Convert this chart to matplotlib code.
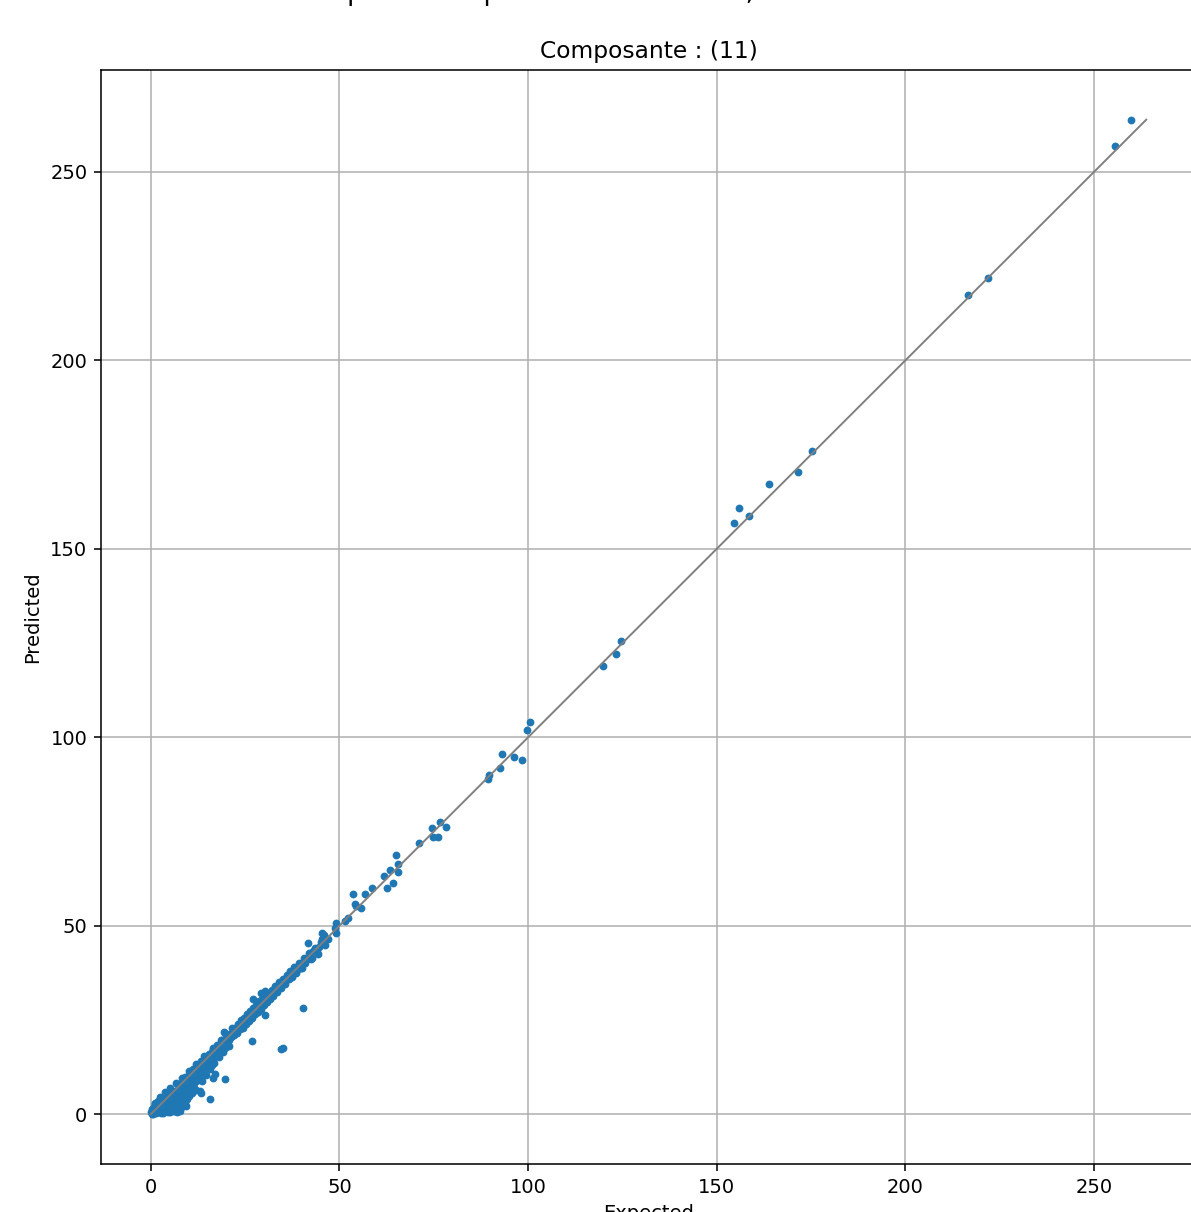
import matplotlib
matplotlib.use("Agg")
import matplotlib.pyplot as plt
import numpy as np

# values (expected, predicted)
outlier_expected = [259.8, 255.6, 221.9, 216.6, 175.2, 171.5, 163.8, 158.5, 155.9, 154.6,
                    124.6, 123.3, 119.8, 100.5, 99.7, 98.4, 96.2, 93.1, 92.6, 89.6, 89.3,
                    74.5, 76.6, 78.2, 74.8, 76.1, 71.0,
                    65.1, 65.5, 63.4, 65.4, 61.8, 64.2, 62.5, 53.5, 56.7, 58.5, 54.1, 55.8,
                    54.5, 52.3, 51.4, 49.2, 48.8, 49.2, 45.3, 45.7, 46.1, 41.7, 43.5, 44.4,
                    42.6, 40.0, 40.4, 30.2, 26.7, 35.1, 34.6, 17.0, 16.5, 19.6, 13.0, 13.4,
                    15.6, 27.1, 19.4, 29.3, 30.2]
outlier_predicted = [263.8, 256.9, 221.7, 217.4, 175.8, 170.3, 167.1, 158.6, 160.8, 156.8,
                     125.5, 122.1, 118.9, 104.1, 102.0, 94.0, 94.8, 95.6, 91.9, 90.0, 89.0,
                     76.0, 77.6, 76.3, 73.6, 73.6, 72.0,
                     68.9, 66.5, 64.7, 64.2, 63.1, 61.4, 60.0, 58.3, 58.3, 60.1, 55.9, 54.8,
                     55.2, 52.1, 51.2, 50.8, 49.4, 48.1, 48.1, 46.8, 45.0, 45.5, 43.7, 42.4,
                     41.5, 38.9, 28.3, 26.3, 19.4, 17.7, 17.4, 10.6, 9.7, 9.3, 6.2, 5.7,
                     4.1, 30.5, 21.8, 32.2, 32.7]

# dense band along the diagonal (0 - 47)
band_expected = [0.0, 0.2, 0.5, 0.8, 1.0, 1.2, 1.5, 1.8, 2.0, 2.2, 2.5, 2.8, 3.0, 3.2, 3.5,
                 3.8, 4.0, 4.2, 4.5, 4.8, 5.0, 5.2, 5.5, 5.8, 6.0, 6.2, 6.5, 6.8, 7.0, 7.2,
                 7.5, 7.8, 8.0, 8.3, 8.5, 8.8, 9.0, 9.2, 9.5, 9.8, 10.0, 10.3, 10.5, 10.8,
                 11.0, 11.3, 11.5, 11.8, 12.0, 12.3, 12.6, 13.0, 13.3, 13.6, 14.0, 14.3,
                 14.6, 15.0, 15.3, 15.6, 16.0, 16.4, 16.8, 17.2, 17.6, 18.0, 18.4, 18.8,
                 19.2, 19.6, 20.0, 20.4, 20.8, 21.2, 21.6, 22.0, 22.4, 22.8, 23.2, 23.6,
                 24.0, 24.4, 24.8, 25.2, 25.6, 26.0, 26.4, 26.8, 27.2, 27.6, 28.0, 28.4,
                 28.8, 29.2, 29.6, 30.0, 30.4, 30.8, 31.2, 31.6, 32.0, 32.5, 33.0, 33.5,
                 34.0, 34.5, 35.0, 35.5, 36.0, 36.5, 37.0, 37.5, 38.0, 38.6, 39.2, 39.8,
                 40.5, 41.0, 42.0, 42.5, 43.5, 44.0, 45.0, 46.0, 47.0,
                 1.5, 2.6, 3.4, 4.6, 5.4, 6.6, 7.4, 8.2, 9.4, 10.6, 11.6, 12.8, 14.8, 16.2,
                 17.8, 19.8]
band_predicted = [0.5, 1.5, 0.2, 2.0, 0.8, 2.8, 0.3, 1.6, 3.5, 0.6, 2.4, 1.2, 4.0, 0.4, 2.8,
                  1.5, 4.8, 0.8, 3.2, 2.0, 5.5, 0.5, 3.8, 1.8, 6.2, 1.0, 4.5, 2.6, 0.6, 6.8,
                  3.5, 1.4, 5.2, 8.5, 2.2, 6.5, 9.8, 3.0, 6.0, 7.5, 4.8, 11.0, 8.0, 5.6,
                  9.5, 12.0, 7.0, 10.3, 6.5, 12.8, 9.0, 11.5, 14.0, 8.8, 12.5, 15.0,
                  10.5, 13.8, 16.0, 12.0, 15.0, 17.2, 13.5, 16.0, 18.5, 15.2, 17.5, 19.6,
                  16.5, 21.5, 18.8, 21.0, 18.0, 20.5, 22.8, 21.0, 23.0, 21.5, 24.0, 22.5,
                  25.0, 23.0, 25.5, 24.0, 26.5, 24.8, 27.5, 25.5, 28.2, 26.5, 29.0, 27.0,
                  30.0, 28.0, 30.5, 29.0, 31.5, 29.8, 32.0, 30.5, 33.0, 31.5, 34.0, 32.5,
                  35.0, 33.5, 36.0, 34.5, 37.0, 35.8, 38.0, 36.5, 39.0, 37.5, 40.2, 38.8,
                  41.5, 40.0, 42.8, 41.2, 44.2, 43.0, 45.8, 47.5, 46.5,
                  0.9, 0.4, 1.0, 0.7, 2.5, 1.2, 4.2, 3.6, 2.2, 7.2, 8.5, 10.0, 13.0, 13.0,
                  15.5, 17.5]

fill_expected = [0.3, 0.6, 1.1, 1.4, 1.9, 2.3, 2.7, 3.1, 3.6, 3.9, 4.3, 4.4, 4.9, 5.1, 5.6,
                 5.9, 6.3, 6.4, 6.9, 7.1, 7.3, 7.7, 7.9, 8.1, 8.6, 8.7, 9.1, 9.3, 9.7, 9.9,
                 10.2, 10.4, 10.9, 11.2, 11.4, 11.9, 12.2, 12.5, 12.9, 13.2, 13.5, 13.9,
                 14.2, 14.5, 14.9, 15.2, 15.5, 15.9, 16.2, 16.6, 17.0, 17.4, 17.8, 18.2,
                 18.6, 19.0, 19.4, 19.8, 20.2, 20.6, 21.0, 21.4, 21.8, 22.2, 22.6, 23.0,
                 23.4, 23.8, 24.2, 24.6, 25.0, 25.4, 25.8, 26.2, 26.6, 27.0, 27.4, 27.8,
                 28.2, 28.6, 29.0, 29.4, 29.8, 30.2, 30.6, 31.0, 31.4, 31.8, 32.2, 32.8,
                 33.2, 33.8, 34.2, 34.8, 35.2, 35.8, 36.2, 36.8, 37.2, 37.8, 38.3, 38.9,
                 39.5, 40.2, 40.8, 41.5, 43.0, 44.5, 45.5,
                 1.0, 2.4, 3.8, 5.2, 6.8, 8.2, 10.0, 12.0, 14.2, 16.4, 18.6]
fill_predicted = [0.1, 1.0, 1.8, 1.1, 0.9, 1.9, 3.0, 2.2, 0.9, 3.6, 2.6, 1.4, 4.0, 1.3, 2.6,
                  4.9, 3.4, 0.9, 5.6, 1.9, 4.2, 0.9, 6.0, 3.0, 7.6, 4.4, 5.4, 8.6, 4.0, 9.2,
                  6.8, 9.6, 7.2, 10.8, 8.6, 11.6, 9.8, 11.0, 12.6, 10.2, 13.0, 11.2,
                  13.8, 12.2, 14.6, 13.0, 15.2, 14.0, 16.4, 15.0, 17.0, 15.6, 17.9, 16.8,
                  18.8, 17.8, 19.6, 18.6, 20.2, 19.6, 21.2, 20.8, 22.0, 21.8, 22.6, 22.6,
                  23.4, 23.5, 24.2, 24.3, 25.0, 25.2, 25.8, 26.0, 26.7, 26.9, 27.4, 27.7,
                  28.2, 28.6, 29.1, 29.3, 29.8, 30.2, 30.7, 31.0, 31.3, 31.8, 32.3, 32.7,
                  33.3, 33.7, 34.3, 34.7, 35.3, 35.6, 36.4, 36.6, 37.3, 37.6, 38.4, 38.6,
                  39.6, 40.0, 41.0, 41.3, 43.3, 44.4, 46.6,
                  3.0, 4.6, 5.8, 7.0, 8.4, 9.6, 11.4, 13.3, 15.4, 17.5, 19.8]

expected = np.array(outlier_expected + band_expected + fill_expected)
predicted = np.array(outlier_predicted + band_predicted + fill_predicted)

DPI = 140
fig = plt.figure(figsize=(1191 / DPI, 1212 / DPI), dpi=DPI)
# figure title, only its descenders show at the top edge
fig.text(315 / 1191, 1.0, "Expected vs predicted outcomes, test dataset",
         fontsize=13.5, ha='left', va='baseline')

ax = fig.add_axes([101 / 1191, 48 / 1212, 1095 / 1191, 1094 / 1212])
ax.plot(expected, predicted, '.', color='C0')

lo = min(expected.min(), predicted.min())
hi = max(expected.max(), predicted.max())
ax.plot([lo, hi], [lo, hi], color='gray', linewidth=1)

ax.grid(True)
ax.set_title("Composante : (11)")
ax.set_xlabel("Expected")
ax.set_ylabel("Predicted")

fig.savefig("out.png", dpi=DPI)
